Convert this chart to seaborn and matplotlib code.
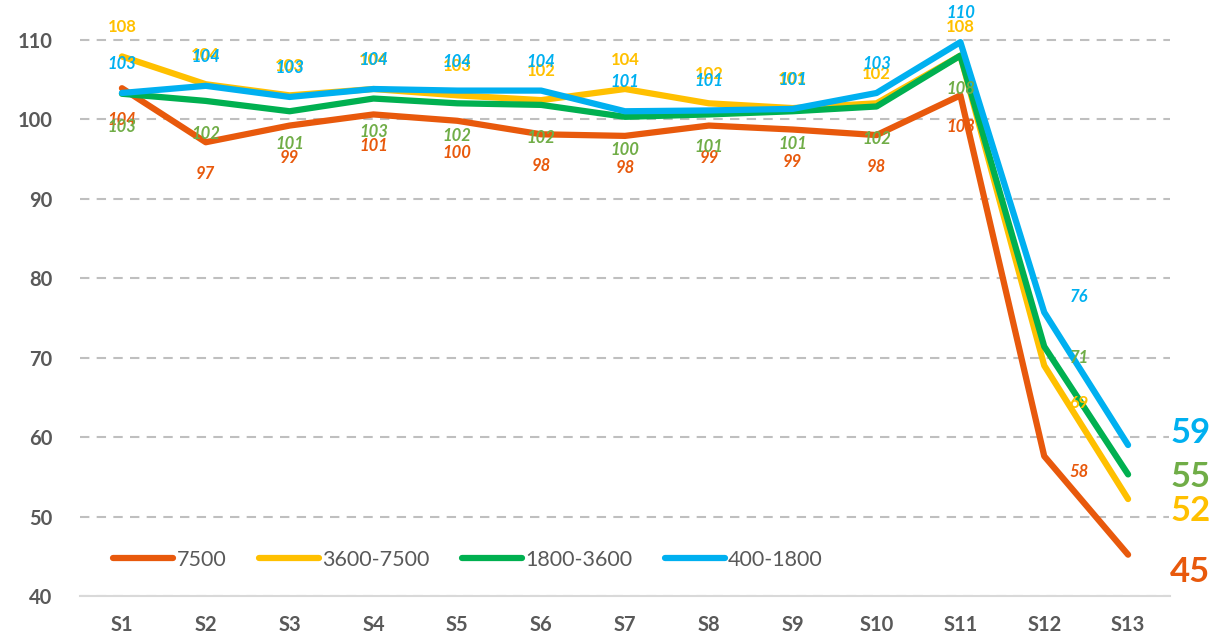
import matplotlib
matplotlib.use("Agg")
import matplotlib.pyplot as plt
import seaborn as sns
import pandas as pd
from matplotlib.lines import Line2D

# --- data ---
stages = ["S1", "S2", "S3", "S4", "S5", "S6", "S7", "S8", "S9", "S10", "S11", "S12", "S13"]
series_names = ["7500", "3600-7500", "1800-3600", "400-1800"]

vals_7500 = [103.9, 97.1, 99.2, 100.6, 99.8, 98.1, 97.9, 99.2, 98.7, 98.0, 103.0, 57.6, 45.2]
vals_3600_7500 = [107.9, 104.4, 103.0, 103.8, 103.0, 102.4, 103.8, 102.0, 101.4, 102.0, 108.0, 69.0, 52.2]
vals_1800_3600 = [103.2, 102.3, 101.0, 102.6, 102.0, 101.8, 100.3, 100.6, 101.0, 101.6, 108.0, 71.4, 55.3]
vals_400_1800 = [103.3, 104.2, 102.8, 103.8, 103.6, 103.6, 101.0, 101.1, 101.3, 103.3, 109.7, 75.7, 59.0]

labels_7500 = [104, 97, 99, 101, 100, 98, 98, 99, 99, 98, 103, 58, 45]
labels_3600_7500 = [108, 104, 103, 104, 103, 102, 104, 102, 101, 102, 108, 69, 52]
labels_1800_3600 = [103, 102, 101, 103, 102, 102, 100, 101, 101, 102, 108, 71, 55]
labels_400_1800 = [103, 104, 103, 104, 104, 104, 101, 101, 101, 103, 110, 76, 59]

values = [vals_7500, vals_3600_7500, vals_1800_3600, vals_400_1800]
labels = [labels_7500, labels_3600_7500, labels_1800_3600, labels_400_1800]

# --- styling ---
line_colors = ["#E8590C", "#FFC000", "#00B050", "#00B0F0"]
label_colors = ["#E8590C", "#FFC000", "#70AD47", "#00B0F0"]
label_styles = ["italic", "normal", "italic", "italic"]
base_dy = [-32, 29, -33, 29]        # pixel offsets of normal point labels
s12_dy = [-16, -37, -12, 15]        # S12 labels sit to the right of the point
s13_dy = [-17, -12, -3, 12]         # big end labels
gray = "#595959"

rows = []
for name, vals in zip(series_names, values):
    for st, v in zip(stages, vals):
        rows.append({"stage": st, "value": v, "series": name})
df = pd.DataFrame(rows)

sns.set_theme(style="white")
plt.rcParams["font.family"] = ["Lato", "DejaVu Sans"]

fig = plt.figure(figsize=(12.13, 6.39), dpi=100)
ax = fig.add_axes([80 / 1213, 1 - 596 / 639, 1090 / 1213, 596 / 639])

sns.lineplot(data=df, x="stage", y="value", hue="series", hue_order=series_names,
             palette=line_colors, linewidth=4.5, legend=False, sort=False, ax=ax)
for ln in ax.get_lines():
    ln.set_solid_joinstyle("round")
    ln.set_solid_capstyle("round")

# point labels
n = len(stages)
for k in range(len(series_names)):
    for i in range(n):
        v = values[k][i]
        txt = str(labels[k][i])
        if i == n - 1:
            ax.annotate(txt, (i, v), xytext=(42, s13_dy[k]), textcoords="offset pixels",
                        ha="left", va="center", fontsize=25, fontweight="bold",
                        color=label_colors[k], annotation_clip=False,
                        bbox=dict(facecolor="white", edgecolor="none", pad=1))
        elif i == n - 2:
            ax.annotate(txt, (i, v), xytext=(35, s12_dy[k]), textcoords="offset pixels",
                        ha="center", va="center", fontsize=12, fontweight="bold",
                        fontstyle=label_styles[k], color=label_colors[k])
        else:
            ax.annotate(txt, (i, v), xytext=(0, base_dy[k]), textcoords="offset pixels",
                        ha="center", va="center", fontsize=12, fontweight="bold",
                        fontstyle=label_styles[k], color=label_colors[k])

ax.set_xlim(-0.5, n - 0.5)
ax.set_ylim(40, 115)
ax.set_yticks(range(40, 111, 10))
ax.set_xlabel("")
ax.set_ylabel("")

ax.yaxis.grid(True, color="#BFBFBF", linewidth=1.5, linestyle=(0, (4.5, 3.5)))
ax.set_axisbelow(True)
for side in ["left", "right", "top"]:
    ax.spines[side].set_visible(False)
ax.spines["bottom"].set_color("#D9D9D9")
ax.spines["bottom"].set_linewidth(1.5)

ax.tick_params(axis="x", length=0, pad=14, labelsize=14.5, labelcolor=gray)
ax.tick_params(axis="y", length=0, pad=20, labelsize=14.5, labelcolor=gray)
for t in ax.get_xticklabels() + ax.get_yticklabels():
    t.set_fontweight("bold")

handles = [Line2D([0], [0], color=c, linewidth=4.5, solid_capstyle="round") for c in line_colors]
fig.legend(handles, series_names, loc="center left", bbox_to_anchor=(113 / 1213, 1 - 560 / 639),
           ncol=4, frameon=False, handlelength=2.8, handletextpad=0.15, columnspacing=1.5,
           fontsize=15.5, labelcolor=gray, borderpad=0, borderaxespad=0)

fig.savefig("out.png", dpi=100)
